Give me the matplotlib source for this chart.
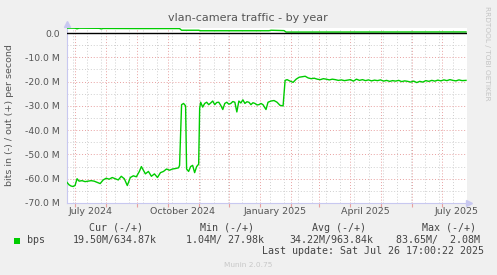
import matplotlib
matplotlib.use('Agg')
import matplotlib.pyplot as plt
import matplotlib.transforms as mtransforms
from matplotlib.patches import Rectangle
import pandas as pd

# bits in (drawn negative), Mbit/s
in_dates = ['2024-06-23', '2024-06-25', '2024-06-27', '2024-06-29', '2024-07-01', '2024-07-03',
            '2024-07-05', '2024-07-08', '2024-07-11', '2024-07-14', '2024-07-17', '2024-07-20',
            '2024-07-23', '2024-07-26', '2024-07-29', '2024-08-01', '2024-08-04', '2024-08-07',
            '2024-08-10', '2024-08-13', '2024-08-16', '2024-08-19', '2024-08-22', '2024-08-25',
            '2024-08-28', '2024-08-31', '2024-09-03', '2024-09-05', '2024-09-07', '2024-09-09',
            '2024-09-12', '2024-09-15', '2024-09-18', '2024-09-21', '2024-09-24', '2024-09-27',
            '2024-09-30', '2024-10-03', '2024-10-06', '2024-10-09', '2024-10-12', '2024-10-13',
            '2024-10-15', '2024-10-17', '2024-10-19', '2024-10-20', '2024-10-22', '2024-10-24',
            '2024-10-26', '2024-10-28', '2024-10-30', '2024-11-01', '2024-11-02', '2024-11-03',
            '2024-11-05', '2024-11-07', '2024-11-09', '2024-11-11', '2024-11-13', '2024-11-15',
            '2024-11-17', '2024-11-19', '2024-11-21', '2024-11-23', '2024-11-25', '2024-11-27',
            '2024-11-29', '2024-12-01', '2024-12-03', '2024-12-05', '2024-12-07', '2024-12-09',
            '2024-12-11', '2024-12-13', '2024-12-15', '2024-12-17', '2024-12-19', '2024-12-21',
            '2024-12-23', '2024-12-25', '2024-12-27', '2024-12-29', '2024-12-31', '2025-01-02',
            '2025-01-04', '2025-01-07', '2025-01-09', '2025-01-12', '2025-01-15', '2025-01-18',
            '2025-01-21', '2025-01-24', '2025-01-26', '2025-01-28',
            '2025-01-31', '2025-02-03', '2025-02-06', '2025-02-09', '2025-02-12', '2025-02-15',
            '2025-02-18', '2025-02-21', '2025-02-24', '2025-02-27', '2025-03-02', '2025-03-05',
            '2025-03-08', '2025-03-11', '2025-03-14', '2025-03-17', '2025-03-20', '2025-03-23',
            '2025-03-26', '2025-03-29', '2025-04-01', '2025-04-04', '2025-04-07', '2025-04-10',
            '2025-04-13', '2025-04-16', '2025-04-19', '2025-04-22', '2025-04-25', '2025-04-28',
            '2025-05-01', '2025-05-04', '2025-05-07', '2025-05-10', '2025-05-13', '2025-05-16',
            '2025-05-19', '2025-05-22', '2025-05-25', '2025-05-28', '2025-05-31', '2025-06-03',
            '2025-06-06', '2025-06-09', '2025-06-12', '2025-06-15', '2025-06-18', '2025-06-21',
            '2025-06-24', '2025-06-27', '2025-06-30', '2025-07-03', '2025-07-06', '2025-07-09',
            '2025-07-12', '2025-07-15', '2025-07-18', '2025-07-21', '2025-07-25']
in_values = [-61.5, -62.5, -63.0, -63.2, -62.8, -60.0,
             -61.0, -60.8, -61.2, -61.0, -60.8, -61.0,
             -61.5, -62.0, -60.5, -59.8, -60.2, -59.5,
             -60.0, -60.5, -59.0, -60.0, -62.8, -59.5,
             -58.8, -59.2, -57.0, -55.0, -56.5, -58.0,
             -57.0, -59.0, -58.0, -59.5, -57.5, -57.0,
             -56.0, -56.5, -56.0, -55.8, -55.5, -54.5,
             -29.5, -29.0, -30.0, -56.0, -57.0, -55.0,
             -54.5, -57.5, -55.0, -54.0, -31.0, -28.5,
             -30.5, -29.0, -28.5, -29.5, -28.8, -28.0,
             -29.5, -28.6, -28.5, -29.8, -31.5, -29.0,
             -28.5, -29.3, -29.0, -28.2, -28.5, -32.5,
             -28.0, -28.8, -27.5, -29.0, -28.3, -28.5,
             -29.5, -28.7, -29.0, -29.6, -29.5, -29.0,
             -29.5, -31.5, -28.5, -28.0,
             -27.8, -28.5, -29.8, -30.0, -19.5, -19.2,
             -19.8, -20.3, -19.0, -18.2, -18.0, -17.8,
             -18.5, -18.8, -18.6, -19.0, -19.2, -18.8,
             -19.0, -19.3, -19.0, -19.2, -19.5, -19.3,
             -19.6, -19.4, -19.2, -19.8, -19.0, -19.5,
             -19.2, -19.6, -19.3, -19.7, -19.4, -19.6,
             -19.3, -19.8, -19.5, -19.9, -19.6, -19.8,
             -19.5, -20.0, -19.7, -19.9, -20.2, -19.8,
             -20.4, -19.9, -20.2, -19.6, -19.9, -19.5,
             -19.8, -19.4, -19.7, -19.3, -19.6, -19.2,
             -19.5, -19.7, -19.3, -19.6, -19.5]

# bits out (positive), Mbit/s
out_dates = ['2024-06-23', '2024-07-01', '2024-07-03', '2024-07-05', '2024-07-25', '2024-07-27',
             '2024-07-29', '2024-09-01', '2024-10-13', '2024-10-15', '2024-11-01', '2024-11-03',
             '2025-01-10', '2025-01-12', '2025-01-25', '2025-01-27', '2025-07-25']
out_values = [2.05, 2.0, 1.75, 2.0, 1.95, 1.7,
              1.9, 1.85, 1.85, 1.15, 1.15, 0.95,
              0.95, 1.15, 1.0, 0.4, 0.45]

month_starts = pd.date_range('2024-07-01', '2025-07-01', freq='MS')
minor_days = pd.date_range('2024-06-29', '2025-07-26', freq='14D')
label_dates = ['2024-07-16', '2024-10-16', '2025-01-16', '2025-04-16', '2025-07-16']
label_text = ['July 2024', 'October 2024', 'January 2025', 'April 2025', 'July 2025']
y_ticks = [0, -10, -20, -30, -40, -50, -60, -70]

W, H = 497, 275
fig = plt.figure(figsize=(W / 100, H / 100), dpi=100, facecolor='#f0f0f0')
ax = fig.add_axes([67 / W, 72 / H, 400 / W, 175.3 / H])
ax.set_facecolor('white')

ax.plot(pd.to_datetime(in_dates), in_values, color='#00cc00', lw=1.0, zorder=3)
ax.plot(pd.to_datetime(out_dates), out_values, color='#00cc00', lw=1.0, zorder=3)
ax.axhline(0, color='black', lw=1.0, zorder=4)

ax.set_xlim(pd.Timestamp('2024-06-23'), pd.Timestamp('2025-07-26'))
ax.set_ylim(-70, 2.2)

ax.set_yticks(y_ticks)
ax.set_yticklabels(['0.0' if v == 0 else '%.1f M' % v for v in y_ticks])
ax.set_yticks([-65, -55, -45, -35, -25, -15, -5], minor=True)
ax.set_xticks(month_starts)
ax.set_xticklabels([''] * len(month_starts))
ax.set_xticks(minor_days, minor=True)

ax.grid(which='major', color='#e8a0a0', linestyle=(0, (1, 2)), linewidth=0.7)
ax.grid(which='minor', color='#cfcfcf', linestyle=(0, (1, 2)), linewidth=0.7)
ax.set_axisbelow(True)
ax.tick_params(axis='y', which='both', length=0, labelsize=6.7, labelcolor='#555555', pad=5)
ax.tick_params(axis='x', which='major', length=3, color='#e8a0a0', direction='out')
ax.tick_params(axis='x', which='minor', length=0)

for s in ['top', 'right']:
    ax.spines[s].set_visible(False)
for s in ['left', 'bottom']:
    ax.spines[s].set_color('#c8c8f0')
ax.plot([1.005], [0], marker='>', color='#c8c8f0', ms=4, transform=ax.transAxes, clip_on=False)
ax.plot([0], [1.02], marker='^', color='#c8c8f0', ms=4, transform=ax.transAxes, clip_on=False)

trans = mtransforms.blended_transform_factory(ax.transData, fig.transFigure)
for d, t in zip(label_dates, label_text):
    ax.text(pd.Timestamp(d), 1 - 212 / H, t, transform=trans, ha='center', va='center',
            fontsize=6.8, color='#555555')

fig.text(248 / W, 1 - 18 / H, 'vlan-camera traffic - by year', ha='center', va='center',
         fontsize=8, color='#555555')
fig.text(10 / W, 1 - 115 / H, 'bits in (-) / out (+) per second', rotation=90,
         ha='center', va='center', fontsize=6.8, color='#555555')
fig.text(487 / W, 1 - 53 / H, 'RRDTOOL / TOBI OETIKER', rotation=270, ha='center',
         va='center', fontsize=5.3, color='#c4c4c4')

mono = dict(family='DejaVu Sans Mono', fontsize=7.2, color='#444444', va='center', ha='left')
fig.text(89 / W, 1 - 228 / H, 'Cur (-/+)', **mono)
fig.text(200 / W, 1 - 228 / H, 'Min (-/+)', **mono)
fig.text(311.5 / W, 1 - 228 / H, 'Avg (-/+)', **mono)
fig.text(422.5 / W, 1 - 228 / H, 'Max (-/+)', **mono)
fig.text(27 / W, 1 - 240 / H, 'bps', **mono)
fig.text(72.5 / W, 1 - 240 / H, '19.50M/634.87k', **mono)
fig.text(186.5 / W, 1 - 240 / H, '1.04M/ 27.98k', **mono)
fig.text(289 / W, 1 - 240 / H, '34.22M/963.84k', **mono)
fig.text(396.5 / W, 1 - 240 / H, '83.65M/  2.08M', **mono)
fig.text(261.5 / W, 1 - 251 / H, 'Last update: Sat Jul 26 17:00:22 2025', **mono)
fig.patches.append(Rectangle((14 / W, 1 - 243.5 / H), 6 / W, 6 / H, transform=fig.transFigure,
                             facecolor='#00cc00', edgecolor='none'))
fig.text(248 / W, 1 - 265 / H, 'Munin 2.0.75', ha='center', va='center', fontsize=5.3,
         color='#c8c8c8')

fig.savefig('out.png', dpi=100, facecolor=fig.get_facecolor())
